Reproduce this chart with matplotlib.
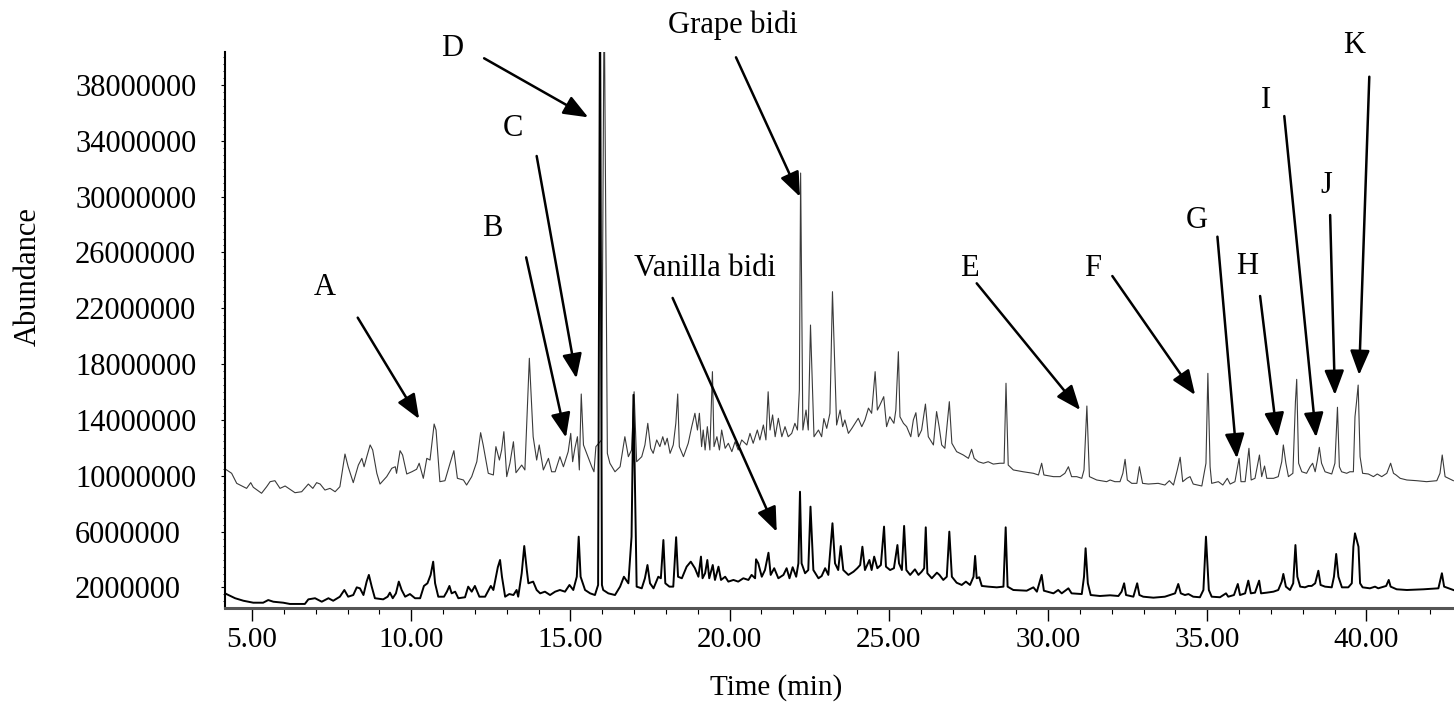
import numpy as np
import matplotlib
matplotlib.use("Agg")
import matplotlib.pyplot as plt
from matplotlib.ticker import FixedLocator, MultipleLocator, FuncFormatter

plt.rcParams["font.family"] = ["Liberation Serif", "DejaVu Serif"]

# grape bidi TIC (upper trace): retention time (min) / abundance (millions)
grape_time = [
    4.15, 4.36, 4.52, 4.83, 4.96, 5.04, 5.30, 5.46, 5.57, 5.72,
    5.88, 6.04, 6.35, 6.56, 6.77, 6.91, 7.03, 7.14, 7.29, 7.45,
    7.61, 7.76, 7.92, 8.02, 8.18, 8.34, 8.45, 8.52, 8.60, 8.71,
    8.79, 8.92, 9.02, 9.23, 9.39, 9.50, 9.54, 9.65, 9.73, 9.86,
    10.02, 10.17, 10.25, 10.38, 10.49, 10.59, 10.72, 10.78, 10.90, 11.06,
    11.22, 11.34, 11.45, 11.64, 11.74, 11.90, 12.06, 12.18, 12.26, 12.42,
    12.58, 12.66, 12.77, 12.84, 12.91, 13.00, 13.10, 13.21, 13.29, 13.47,
    13.57, 13.71, 13.83, 13.94, 14.02, 14.15, 14.31, 14.41, 14.52, 14.67,
    14.78, 14.93, 15.01, 15.07, 15.14, 15.22, 15.28, 15.34, 15.41, 15.51,
    15.67, 15.74, 15.80, 15.98, 16.06, 16.16, 16.24, 16.40, 16.56, 16.71,
    16.82, 16.92, 17.00, 17.08, 17.24, 17.34, 17.43, 17.52, 17.60, 17.71,
    17.81, 17.90, 17.97, 18.04, 18.13, 18.23, 18.31, 18.37, 18.42, 18.55,
    18.70, 18.81, 18.91, 18.99, 19.05, 19.12, 19.17, 19.23, 19.30, 19.38,
    19.46, 19.51, 19.60, 19.68, 19.75, 19.86, 19.96, 20.07, 20.17, 20.27,
    20.38, 20.54, 20.64, 20.74, 20.87, 20.95, 21.06, 21.14, 21.21, 21.27,
    21.35, 21.43, 21.53, 21.64, 21.74, 21.84, 21.95, 22.05, 22.13, 22.19,
    22.23, 22.30, 22.40, 22.47, 22.54, 22.65, 22.79, 22.89, 22.96, 23.05,
    23.15, 23.23, 23.36, 23.47, 23.55, 23.62, 23.73, 23.84, 23.94, 24.04,
    24.15, 24.25, 24.36, 24.46, 24.57, 24.64, 24.72, 24.84, 24.93, 25.03,
    25.16, 25.22, 25.30, 25.35, 25.46, 25.56, 25.69, 25.77, 25.85, 25.93,
    26.03, 26.15, 26.24, 26.40, 26.50, 26.58, 26.66, 26.76, 26.90, 26.98,
    27.13, 27.34, 27.50, 27.60, 27.68, 27.81, 27.97, 28.12, 28.28, 28.49,
    28.62, 28.68, 28.75, 28.91, 29.22, 29.54, 29.70, 29.80, 29.87, 30.17,
    30.38, 30.53, 30.64, 30.74, 30.90, 31.06, 31.13, 31.22, 31.30, 31.53,
    31.84, 31.95, 32.10, 32.26, 32.35, 32.42, 32.49, 32.63, 32.79, 32.87,
    32.97, 33.15, 33.46, 33.67, 33.81, 33.94, 34.06, 34.15, 34.23, 34.36,
    34.46, 34.56, 34.83, 34.96, 35.02, 35.09, 35.14, 35.35, 35.49, 35.63,
    35.72, 35.87, 36.00, 36.06, 36.19, 36.31, 36.38, 36.50, 36.64, 36.71,
    36.80, 36.87, 37.08, 37.23, 37.34, 37.39, 37.47, 37.55, 37.69, 37.77,
    37.81, 37.87, 37.97, 38.12, 38.23, 38.31, 38.39, 38.46, 38.52, 38.59,
    38.70, 38.91, 39.01, 39.09, 39.15, 39.22, 39.38, 39.48, 39.59, 39.64,
    39.69, 39.74, 39.80, 39.88, 40.06, 40.22, 40.34, 40.48, 40.64, 40.76,
    40.85, 40.93, 41.06, 41.27, 41.58, 41.89, 42.21, 42.31, 42.38, 42.47, 42.73,
]
grape_abund = [
    10.50, 10.18, 9.46, 9.10, 9.51, 9.18, 8.75, 9.22, 9.58, 9.65,
    9.10, 9.27, 8.79, 8.86, 9.41, 9.10, 9.51, 9.41, 8.98, 9.10,
    8.86, 9.22, 11.56, 10.65, 9.51, 10.77, 11.25, 10.65, 11.33, 12.21,
    11.85, 10.18, 9.41, 9.94, 10.54, 10.65, 10.18, 11.80, 11.49, 10.13,
    10.29, 10.47, 10.90, 9.82, 11.25, 11.13, 13.71, 13.28, 9.58, 9.65,
    10.90, 11.80, 9.82, 9.70, 9.34, 9.94, 11.01, 13.09, 12.21, 10.18,
    10.06, 12.09, 11.13, 11.85, 13.16, 9.94, 10.90, 12.44, 10.22, 10.77,
    10.42, 18.42, 12.80, 11.13, 12.21, 10.42, 11.25, 10.29, 10.29, 11.37,
    10.65, 11.73, 13.04, 11.01, 11.97, 12.80, 10.42, 15.86, 12.21, 11.61,
    10.65, 10.29, 12.09, 12.57, 45.00, 11.61, 10.90, 10.29, 10.65, 12.80,
    11.37, 11.85, 16.02, 11.01, 11.37, 12.21, 13.76, 11.97, 11.61, 12.57,
    12.09, 12.80, 12.21, 12.69, 11.61, 12.21, 13.76, 15.86, 12.09, 11.37,
    12.33, 13.52, 14.48, 13.28, 14.48, 12.09, 13.28, 11.85, 13.52, 11.85,
    17.46, 12.09, 12.80, 11.85, 13.28, 11.97, 12.33, 11.73, 12.44, 11.85,
    12.57, 12.21, 13.04, 12.33, 13.28, 12.57, 13.64, 12.57, 16.02, 13.28,
    14.36, 12.80, 14.12, 12.80, 13.52, 12.80, 13.04, 13.76, 13.28, 16.14,
    31.69, 13.28, 14.71, 13.28, 20.80, 12.80, 13.28, 12.80, 14.10, 13.40,
    14.48, 23.19, 13.64, 14.71, 13.52, 14.00, 13.04, 13.40, 13.76, 14.12,
    13.52, 14.00, 14.85, 14.48, 17.46, 14.71, 15.07, 15.67, 13.52, 14.23,
    13.76, 14.71, 18.89, 14.23, 13.76, 13.52, 12.80, 14.00, 14.52, 12.80,
    13.28, 15.14, 12.80, 12.21, 14.60, 13.52, 12.21, 11.97, 15.31, 12.33,
    11.73, 11.49, 11.25, 11.90, 11.25, 11.01, 10.90, 11.01, 10.84, 10.90,
    10.90, 16.63, 10.77, 10.42, 10.29, 10.18, 10.06, 10.90, 10.06, 9.94,
    9.94, 10.18, 10.65, 9.94, 9.94, 9.82, 10.42, 15.00, 9.94, 9.70,
    9.58, 9.70, 9.58, 9.58, 10.18, 11.18, 9.70, 9.46, 9.46, 10.65,
    9.46, 9.41, 9.46, 9.34, 9.65, 9.34, 10.42, 11.33, 9.58, 9.82,
    9.94, 9.41, 9.27, 10.90, 17.34, 10.65, 9.46, 9.58, 9.34, 9.82,
    9.41, 9.58, 11.25, 9.58, 9.58, 11.97, 9.70, 9.82, 11.49, 9.94,
    10.70, 9.82, 9.82, 9.94, 11.01, 12.21, 10.90, 9.94, 10.18, 15.31,
    16.91, 10.90, 10.29, 10.18, 10.65, 10.90, 10.29, 11.13, 12.04, 10.90,
    10.29, 10.13, 10.90, 14.91, 10.65, 10.29, 10.18, 10.29, 10.29, 14.23,
    15.31, 16.50, 11.37, 10.18, 10.13, 9.94, 10.13, 9.94, 10.18, 10.90,
    10.18, 10.06, 9.82, 9.70, 9.65, 9.58, 9.65, 10.18, 11.49, 9.94, 9.65,
]

# vanilla bidi TIC (lower trace)
vanilla_time = [
    4.15, 4.26, 4.47, 4.73, 5.04, 5.35, 5.51, 5.67, 5.98, 6.19,
    6.66, 6.77, 6.98, 7.19, 7.40, 7.55, 7.76, 7.90, 8.02, 8.18,
    8.29, 8.39, 8.50, 8.60, 8.67, 8.76, 8.86, 9.12, 9.26, 9.33,
    9.42, 9.52, 9.61, 9.70, 9.81, 9.96, 10.12, 10.28, 10.40, 10.51,
    10.61, 10.69, 10.75, 10.85, 11.03, 11.12, 11.20, 11.27, 11.38, 11.48,
    11.69, 11.79, 11.90, 12.00, 12.14, 12.32, 12.50, 12.58, 12.72, 12.79,
    12.85, 12.95, 13.08, 13.21, 13.31, 13.36, 13.47, 13.55, 13.63, 13.68,
    13.83, 13.94, 14.05, 14.20, 14.36, 14.52, 14.67, 14.83, 14.97, 15.09,
    15.20, 15.26, 15.32, 15.46, 15.62, 15.77, 15.87, 15.93, 15.99, 16.03,
    16.19, 16.40, 16.56, 16.68, 16.82, 16.92, 16.98, 17.08, 17.24, 17.34,
    17.42, 17.50, 17.61, 17.76, 17.84, 17.92, 17.98, 18.11, 18.23, 18.32,
    18.38, 18.50, 18.65, 18.78, 18.91, 19.02, 19.10, 19.15, 19.23, 19.30,
    19.36, 19.47, 19.54, 19.65, 19.73, 19.86, 19.96, 20.12, 20.27, 20.43,
    20.59, 20.69, 20.80, 20.83, 20.90, 21.01, 21.11, 21.22, 21.29, 21.40,
    21.53, 21.69, 21.79, 21.88, 21.98, 22.09, 22.16, 22.21, 22.26, 22.37,
    22.47, 22.54, 22.63, 22.79, 22.89, 23.00, 23.10, 23.23, 23.31, 23.41,
    23.49, 23.57, 23.73, 23.89, 24.01, 24.10, 24.17, 24.25, 24.39, 24.46,
    24.54, 24.64, 24.75, 24.85, 24.91, 25.04, 25.16, 25.27, 25.32, 25.41,
    25.48, 25.55, 25.67, 25.82, 25.93, 26.03, 26.11, 26.16, 26.21, 26.35,
    26.51, 26.59, 26.71, 26.82, 26.90, 26.98, 27.13, 27.29, 27.42, 27.55,
    27.66, 27.71, 27.76, 27.84, 27.92, 28.12, 28.39, 28.60, 28.67, 28.73,
    28.91, 29.33, 29.54, 29.65, 29.80, 29.87, 30.17, 30.32, 30.43, 30.64,
    30.74, 31.06, 31.13, 31.18, 31.25, 31.34, 31.63, 31.95, 32.21, 32.31,
    32.39, 32.45, 32.68, 32.80, 32.87, 32.99, 33.31, 33.67, 33.83, 33.99,
    34.09, 34.17, 34.30, 34.41, 34.56, 34.77, 34.88, 34.96, 35.05, 35.14,
    35.40, 35.59, 35.66, 35.84, 35.96, 36.03, 36.19, 36.29, 36.37, 36.50,
    36.63, 36.69, 36.87, 37.08, 37.23, 37.34, 37.39, 37.47, 37.60, 37.70,
    37.77, 37.83, 37.92, 38.07, 38.18, 38.28, 38.39, 38.49, 38.56, 38.70,
    38.91, 38.98, 39.05, 39.12, 39.23, 39.43, 39.54, 39.59, 39.64, 39.70,
    39.75, 39.80, 39.88, 40.11, 40.27, 40.37, 40.62, 40.70, 40.76, 40.95,
    41.27, 41.79, 42.26, 42.37, 42.44, 42.73,
]
vanilla_abund = [
    1.58, 1.46, 1.23, 1.05, 0.91, 0.91, 1.10, 0.98, 0.91, 0.82,
    0.82, 1.15, 1.23, 0.98, 1.23, 1.05, 1.34, 1.82, 1.34, 1.46,
    2.01, 1.94, 1.46, 2.42, 2.90, 2.06, 1.23, 1.15, 1.34, 1.63,
    1.23, 1.58, 2.42, 1.82, 1.34, 1.53, 1.23, 1.23, 2.11, 2.30,
    2.90, 3.85, 2.30, 1.34, 1.34, 1.70, 2.11, 1.58, 1.70, 1.23,
    1.30, 2.06, 1.70, 2.11, 1.34, 1.34, 2.11, 1.82, 3.45, 3.97,
    2.77, 1.34, 1.53, 1.46, 1.82, 1.34, 3.02, 4.97, 3.25, 2.30,
    2.42, 1.82, 1.58, 1.70, 1.46, 1.70, 1.82, 1.70, 2.18, 1.82,
    2.77, 5.64, 2.77, 1.82, 1.58, 1.46, 2.18, 45.00, 2.18, 1.82,
    1.58, 1.46, 2.06, 2.77, 2.30, 5.64, 15.80, 2.06, 1.94, 2.66,
    3.61, 2.30, 1.94, 2.77, 2.66, 5.40, 2.30, 2.06, 2.06, 5.60,
    2.77, 2.66, 3.49, 3.85, 3.38, 2.77, 4.21, 2.66, 3.02, 3.97,
    2.66, 3.61, 2.54, 3.49, 2.54, 2.77, 2.42, 2.54, 2.42, 2.66,
    2.54, 2.90, 2.66, 4.02, 3.73, 2.77, 3.25, 4.49, 2.90, 3.38,
    2.66, 2.90, 3.38, 2.66, 3.45, 2.77, 3.73, 8.86, 3.73, 3.02,
    3.25, 7.79, 3.25, 2.66, 2.82, 3.38, 2.90, 6.60, 3.73, 3.25,
    4.97, 3.25, 2.90, 3.13, 3.38, 3.61, 4.92, 3.25, 3.97, 3.25,
    4.21, 3.38, 3.61, 6.36, 3.49, 3.25, 3.38, 5.04, 3.73, 3.25,
    6.41, 3.25, 2.90, 3.30, 2.90, 3.13, 3.38, 6.31, 3.02, 2.66,
    3.06, 2.90, 2.54, 2.77, 6.00, 2.77, 2.34, 2.18, 2.42, 2.18,
    2.77, 4.26, 2.66, 2.73, 2.11, 2.06, 2.01, 2.06, 6.31, 2.06,
    1.82, 1.77, 2.01, 1.70, 2.90, 1.77, 1.58, 1.82, 1.58, 1.94,
    1.58, 1.53, 2.77, 4.81, 2.30, 1.46, 1.39, 1.44, 1.39, 1.70,
    2.30, 1.46, 1.34, 2.30, 1.46, 1.34, 1.27, 1.34, 1.46, 1.58,
    2.25, 1.58, 1.46, 1.53, 1.34, 1.30, 1.82, 5.64, 1.82, 1.34,
    1.30, 1.58, 1.34, 1.46, 2.25, 1.46, 1.58, 2.49, 1.58, 1.63,
    2.49, 1.58, 1.63, 1.70, 1.82, 2.42, 2.97, 2.06, 1.82, 2.30,
    5.04, 2.77, 2.06, 2.01, 2.11, 2.11, 2.30, 3.20, 2.18, 2.06,
    2.01, 2.77, 4.40, 2.77, 2.01, 2.01, 2.30, 4.92, 5.88, 5.35,
    4.92, 2.30, 2.01, 1.94, 2.06, 1.94, 2.11, 2.54, 2.06, 1.87,
    1.82, 1.87, 1.94, 3.02, 2.06, 1.82,
]

y_tick_values = [2e6, 6e6, 10e6, 14e6, 18e6, 22e6, 26e6, 30e6, 34e6, 38e6]
x_tick_values = [5, 10, 15, 20, 25, 30, 35, 40]

# peak labels: text position, arrow tail and arrow tip (time, abundance in millions)
peak_labels = ["A", "B", "C", "D", "Grape bidi", "Vanilla bidi",
               "E", "F", "G", "H", "I", "J", "K"]
label_time = [7.29, 12.53, 13.21, 11.27, 20.11, 19.23, 27.53, 31.40, 34.67, 36.26, 36.84, 38.75, 39.62]
label_abund = [23.46, 27.73, 34.89, 40.62, 42.29, 24.86, 24.86, 24.86, 28.32, 24.98, 36.92, 30.83, 40.86]
tail_time = [8.32, 13.61, 13.94, 12.29, 20.20, 18.21, 27.76, 32.02, 35.32, 36.66, 37.42, 38.86, 40.09]
tail_abund = [21.33, 25.65, 32.91, 39.91, 39.98, 22.74, 23.79, 24.31, 27.13, 22.88, 35.77, 28.68, 38.59]
tip_time = [10.25, 14.86, 15.19, 15.56, 22.21, 21.48, 31.01, 34.62, 35.93, 37.20, 38.42, 39.01, 39.77]
tip_abund = [14.07, 12.74, 16.98, 35.68, 29.99, 5.99, 14.71, 15.79, 11.25, 12.76, 12.76, 15.79, 17.22]

M = 1e6

fig = plt.figure(figsize=(14.54, 7.04), dpi=100)
ax = fig.add_axes([0.15475, 0.13636, 0.84525, 0.78977])

ax.plot(grape_time, np.array(grape_abund) * M, color="#3a3a3a", lw=0.8)
ax.plot(vanilla_time, np.array(vanilla_abund) * M, color="black", lw=1.4)

ax.set_xlim(4.152, 42.75)
ax.set_ylim(0.53 * M, 40.36 * M)

for side in ("top", "right"):
    ax.spines[side].set_visible(False)
ax.spines["left"].set_linewidth(1.5)
ax.spines["bottom"].set_linewidth(2.2)
ax.spines["bottom"].set_color("#555555")

# x axis: labelled ticks every 5 min, small ones every minute
ax.xaxis.set_major_locator(FixedLocator(x_tick_values))
ax.xaxis.set_minor_locator(MultipleLocator(1))
ax.xaxis.set_major_formatter(FuncFormatter(lambda v, p: f"{v:.2f}"))
ax.tick_params(axis="x", which="major", length=9.4, width=1.0, pad=4.5, labelsize=21)
ax.tick_params(axis="x", which="minor", length=4.3, width=0.8)

# y axis: plain integer labels, left aligned like the original
ax.yaxis.set_major_locator(FixedLocator(y_tick_values))
ax.yaxis.set_minor_locator(MultipleLocator(0.5 * M))
ax.yaxis.set_major_formatter(FuncFormatter(lambda v, p: f"{int(round(v))}"))
ax.tick_params(axis="y", which="major", length=3, width=0.8, pad=105, labelsize=22)
ax.tick_params(axis="y", which="minor", length=1.5, width=0.6)
for lab in ax.get_yticklabels():
    lab.set_horizontalalignment("left")

ax.set_xlabel("Time (min)", fontsize=21)
ax.xaxis.set_label_coords((776 - 225) / 1229, (608 - 688) / 556)
ax.xaxis.label.set_verticalalignment("center")
fig.text(28 / 1454, 1 - 277 / 704, "Abundance", rotation=90,
         ha="center", va="center", fontsize=22)

for i, name in enumerate(peak_labels):
    ax.text(label_time[i], label_abund[i] * M, name, fontsize=22,
            ha="center", va="center", clip_on=False)
    ax.annotate("", xy=(tip_time[i], tip_abund[i] * M),
                xytext=(tail_time[i], tail_abund[i] * M),
                annotation_clip=False,
                arrowprops=dict(arrowstyle="-|>,head_length=0.75,head_width=0.3",
                                mutation_scale=20, lw=1.8, color="black",
                                shrinkA=0, shrinkB=0))

fig.savefig("out.png", dpi=100)
